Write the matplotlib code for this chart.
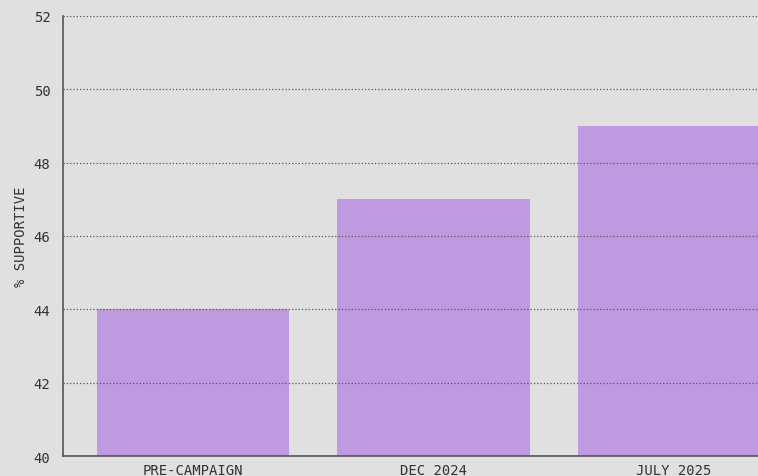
import matplotlib.pyplot as plt
import numpy as np

plt.rcParams['font.family'] = ['DejaVu Sans Mono']

categories = ['PRE-CAMPAIGN', 'DEC 2024', 'JULY 2025']
supportive = [44, 47, 49]
yticks = [40, 42, 44, 46, 48, 50, 52]

bg = '#e0e0e0'
bar_color = '#c09ae0'

fig = plt.figure(figsize=(7.58, 4.77), dpi=100, facecolor=bg)
ax = fig.add_axes([0.0831, 0.0419, 0.9169, 0.9225])
ax.set_facecolor(bg)

x = np.arange(len(categories))
ax.bar(x, supportive, width=0.8, color=bar_color, zorder=1)

ax.set_ylim(40, 52)
ax.set_xlim(-0.542, 2.35)
ax.set_yticks(yticks)
ax.set_xticks(x)
ax.set_xticklabels(categories)
ax.tick_params(axis='y', length=0, labelsize=10, colors='#333333', pad=9)
ax.tick_params(axis='x', length=0, labelsize=10, colors='#333333', pad=5)
ax.set_ylabel('% SUPPORTIVE', size=10, color='#333333', labelpad=4)

ax.grid(True, axis='y', linestyle=':', color='#555555', linewidth=0.9, zorder=3)
ax.set_axisbelow(False)

for s in ['top', 'right']:
    ax.spines[s].set_visible(False)
for s in ['left', 'bottom']:
    ax.spines[s].set_color('#555555')
    ax.spines[s].set_linewidth(1.2)

plt.savefig('out.png', dpi=100, facecolor=bg)
